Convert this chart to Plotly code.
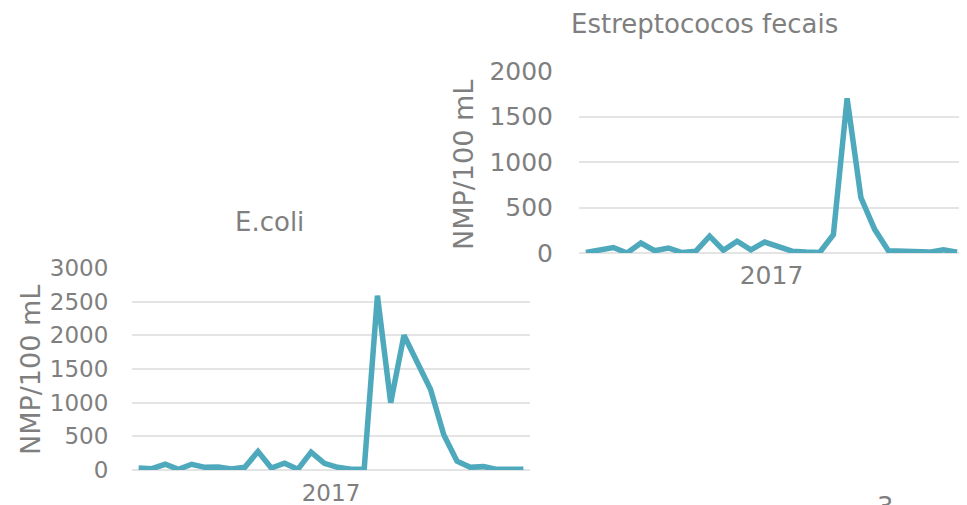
import plotly.graph_objects as go

# E.coli series (30 samples, 2017)
ecoli_values = [30, 20, 85, 10, 85, 40, 45, 15, 40, 275, 30, 100, 10, 265, 100, 40, 10, 10,
                2590, 1000, 2000, 1620, 1200, 525, 130, 40, 50, 10, 20, 10]
# Estreptococos fecais series (28 samples, 2017)
estrep_values = [5, 25, 60, 0, 110, 25, 55, 5, 20, 185, 30, 130, 35, 120, 75, 20, 10, 5,
                 200, 1700, 610, 260, 25, 15, 10, 10, 35, 10]
year_label = "2017"
title_ecoli = "E.coli"
title_estrep = "Estreptococos fecais"
y_title = "NMP/100 mL"
page_number = "3"

LINE = "#4DA9BB"
TXT = "#7F7F7F"
GRID = "#E4E4E4"
FONT = "DejaVu Sans, Verdana, sans-serif"

W, H = 967, 505
OFF = 8  # page body margin

def px_x(p):
    return (p - OFF) / W

def px_y(p):
    return (H - (p - OFF)) / H

fig = go.Figure()
fig.add_trace(go.Scatter(x=list(range(len(ecoli_values))), y=ecoli_values, mode="lines",
                         line=dict(color=LINE, width=5.5), xaxis="x", yaxis="y",
                         showlegend=False, hoverinfo="skip"))
fig.add_trace(go.Scatter(x=list(range(len(estrep_values))), y=estrep_values, mode="lines",
                         line=dict(color=LINE, width=5.5), xaxis="x2", yaxis="y2",
                         showlegend=False, hoverinfo="skip"))

common_y = dict(showgrid=True, gridcolor=GRID, gridwidth=1.5, zeroline=True, zerolinecolor=GRID,
                zerolinewidth=1.5, showline=False, ticks="outside", tickcolor="rgba(0,0,0,0)",
                fixedrange=True, automargin=False)
common_x = dict(showgrid=False, zeroline=False, showline=False, ticks="outside",
                tickcolor="rgba(0,0,0,0)", fixedrange=True, automargin=False)

fig.update_layout(
    template="none",
    width=W, height=H,
    margin=dict(l=0, r=0, t=0, b=0, pad=0, autoexpand=False),
    paper_bgcolor="white", plot_bgcolor="white",
    font=dict(family=FONT, color=TXT),
    xaxis=dict(domain=[px_x(132), px_x(530)], range=[-0.5, len(ecoli_values) - 0.5],
               tickvals=[(len(ecoli_values) - 1) / 2], ticktext=[year_label], ticklen=2,
               tickfont=dict(size=23, color=TXT), anchor="y", **common_x),
    yaxis=dict(domain=[px_y(470), px_y(268)], range=[0, 3000], dtick=500,
               tickfont=dict(size=23, color=TXT), ticklen=18, anchor="x", **common_y),
    xaxis2=dict(domain=[px_x(579), px_x(964)], range=[-0.5, len(estrep_values) - 0.5],
                tickvals=[(len(estrep_values) - 1) / 2], ticktext=[year_label], ticklen=0,
                tickfont=dict(size=25, color=TXT), anchor="y2", **common_x),
    yaxis2=dict(domain=[px_y(253), px_y(71)], range=[0, 2000], dtick=500,
                tickfont=dict(size=25, color=TXT), ticklen=20, anchor="x2", **common_y),
)

ann_common = dict(xref="paper", yref="paper", showarrow=False, xanchor="center")
annotations = [
    dict(text=title_ecoli, x=px_x(269), y=px_y(222), yanchor="middle",
         font=dict(size=26, color=TXT, family=FONT), **ann_common),
    dict(text=title_estrep, x=px_x(704), y=px_y(24), yanchor="middle",
         font=dict(size=26, color=TXT, family=FONT), **ann_common),
    dict(text=y_title, x=px_x(30), y=px_y(370), yanchor="middle", textangle=-90,
         font=dict(size=27, color=TXT, family=FONT), **ann_common),
    dict(text=y_title, x=px_x(463), y=px_y(165), yanchor="middle", textangle=-90,
         font=dict(size=27, color=TXT, family=FONT), **ann_common),
    dict(text=page_number, x=px_x(885), y=px_y(490), yanchor="top",
         font=dict(size=26, color=TXT, family=FONT), **ann_common),
]
fig.update_layout(annotations=annotations)

fig.write_html("out.html")
